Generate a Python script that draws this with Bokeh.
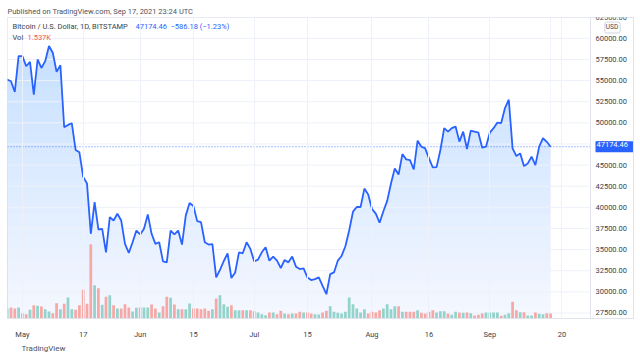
import numpy as np
import pandas as pd
from bokeh.plotting import figure
from bokeh.models import (ColumnDataSource, Range1d, FixedTicker, Label, Span, Title)
from bokeh.core.properties import value
from bokeh.embed import file_html
from bokeh.resources import INLINE

# ---------------- data ----------------
dates = pd.date_range("2021-04-27", "2021-09-17", freq="D")

close = [
    55120, 54920, 53650, 57900,
    # May
    57900, 56700, 57220, 53330, 57500, 56500, 57300, 59090, 58300, 56030,
    56820, 49480, 49760, 49960, 46790, 46510, 43610, 42820, 36870, 40630,
    37380, 37450, 34680, 38850, 38450, 39250, 38450, 35680, 34600, 35870, 37260,
    # Jun
    36790, 37460, 39170, 36870, 35680, 35870, 33610, 33490, 37260, 36790,
    37260, 35600, 39050, 40510, 40160, 38370, 38250, 35870, 35600, 35650,
    31710, 32600, 33650, 34560, 31630, 32300, 34680, 34560, 35870, 35080,
    # Jul
    33610, 33810, 34680, 35280, 33690, 34170, 33690, 32820, 33770, 33490,
    34170, 32980, 32700, 32780, 31710, 31390, 31500, 31710, 30710, 29720,
    32100, 32300, 33690, 34250, 35400, 37260, 39500, 40040, 40040, 42220, 41530,
    # Aug
    39800, 39250, 38180, 39540, 40770, 42820, 44610, 43890, 46310, 45680,
    45600, 44480, 47890, 47180, 46980, 45790, 44720, 44760, 46790, 49370,
    48960, 49370, 49560, 47780, 48960, 46900, 49080, 48960, 48840, 47060, 47180,
    # Sep
    48840, 49370, 50040, 49980, 51750, 52740, 46980, 46070, 46390, 44880,
    45200, 45990, 45000, 47180, 48180, 47760, 47174.46,
]

first_open = 54000.0

volume_k = [
    3.07, 3.38, 3.07, 3.38,
    # May
    1.63, 1.32, 2.67, 4.08, 3.90, 3.68, 2.86, 2.15, 1.63, 4.70,
    2.86, 4.51, 6.45, 2.86, 2.67, 4.08, 8.81, 4.51, 22.81, 10.22,
    9.30, 4.21, 6.66, 7.15, 4.08, 3.07, 3.07, 4.39, 3.38, 2.15, 3.28,
    # Jun
    3.38, 3.38, 3.38, 4.30, 3.07, 1.84, 3.78, 6.66, 6.35, 4.30,
    2.86, 2.86, 2.86, 4.61, 3.07, 3.07, 2.86, 3.07, 2.36, 2.86,
    6.14, 7.15, 4.39, 3.59, 4.08, 2.55, 2.55, 2.55, 2.55, 2.55,
    # Jul
    2.24, 1.84, 1.32, 1.01, 1.84, 1.84, 1.32, 2.36, 1.54, 1.32,
    1.54, 1.54, 2.06, 1.84, 1.84, 1.54, 1.32, 1.23, 1.84, 2.36,
    3.78, 2.06, 1.75, 1.54, 2.06, 6.45, 4.39, 3.07, 1.84, 2.86, 1.54,
    # Aug
    2.06, 1.84, 2.55, 3.07, 4.39, 2.86, 3.78, 3.78, 2.06, 2.06,
    2.06, 2.06, 2.55, 1.75, 1.54, 2.06, 2.55, 1.84, 2.24, 2.24,
    1.54, 1.14, 2.06, 1.84, 1.75, 1.84, 1.63, 0.92, 1.14, 1.54, 1.84,
    # Sep
    1.84, 1.84, 1.84, 0.83, 1.14, 1.63, 5.13, 2.55, 1.93, 1.93,
    0.92, 0.92, 1.84, 1.44, 1.32, 1.63, 1.537,
]

tick_dates = ["2021-05-01", "2021-05-17", "2021-06-01", "2021-06-15", "2021-07-01",
              "2021-07-15", "2021-08-01", "2021-08-16", "2021-09-01", "2021-09-20"]
tick_labels = ["May", "17", "Jun", "15", "Jul", "15", "Aug", "16", "Sep", "20"]
price_ticks = list(range(27500, 62501, 2500))
price_tick_labels = [f"{t:.2f}" for t in price_ticks]
last_price = 47174.46

# ---------------- derived ----------------
DAY = 86400000.0
x_ms = (dates.values.astype("datetime64[ms]").astype(np.int64)).astype(float)
base = x_ms[0]
x_start = base + 0.08 * DAY
x_end = base + 164.82 * DAY
x_sep = base + 153.5 * DAY          # boundary between chart pane and price scale
y_lo, y_hi = 26846.0, 62470.0

prev = np.array([first_open] + close[:-1])
up = np.array(close) >= prev
vol_colors = ["#93d3cc" if u else "#f6a8a6" for u in up]

src = ColumnDataSource(dict(x=x_ms, close=close, vol=volume_k, vcol=vol_colors,
                            top=[y_hi] * len(close)))

FONT = "Roboto"
TXT = "#3b3f4b"
GRID = "#eef1f8"
BORDER = "#e0e3eb"
BLUE = "#2962FF"

p = figure(width=640, height=358, x_axis_type="datetime", y_axis_location=None,
           x_range=Range1d(x_start, x_end), y_range=Range1d(y_lo, y_hi),
           output_backend="svg", toolbar_location=None,
           title="Published on TradingView.com, Sep 17, 2021 23:24 UTC",
           min_border_left=7, min_border_right=7, min_border_top=17, min_border_bottom=40,
           background_fill_color="white", border_fill_color="white")
p.title.text_font = FONT
p.title.text_font_size = "7.5px"
p.title.text_font_style = "normal"
p.title.text_color = "#50535e"
p.title.align = "left"
p.title.standoff = 3
p.title.offset = 0

p.extra_y_ranges = {"vol": Range1d(0, 22.81 * 301 / 74.3)}
p.outline_line_color = BORDER
p.ygrid.visible = False

# gradient fill as nested bands
nb = 25
band_bottoms = [y_lo] + [y_lo + (i / (nb + 1)) * (y_hi - y_lo) for i in range(1, nb + 1)]
band_alpha = [0.05] + [1 - 0.8 ** (1 / nb)] * nb
bsrc = ColumnDataSource(dict(left=[x_ms[0]] * len(band_bottoms), right=[x_ms[-1]] * len(band_bottoms),
                             bottom=band_bottoms, top=[y_hi] * len(band_bottoms), a=band_alpha))
p.quad(left="left", right="right", bottom="bottom", top="top", source=bsrc,
       fill_color=BLUE, fill_alpha="a", line_color=None)
# white mask above the price line
p.varea(x="x", y1="close", y2="top", source=src, fill_color="white")

# grid lines (pane only), drawn above the fill
p.xgrid.grid_line_color = GRID
p.xgrid.level = "guide"
p.segment(x0=[x_start] * len(price_ticks), x1=[x_sep] * len(price_ticks),
          y0=price_ticks, y1=price_ticks, line_color=GRID, line_width=1)

# volume
p.vbar(x="x", top="vol", width=0.72 * DAY, source=src, y_range_name="vol",
       fill_color="vcol", line_color=None)

# last price dotted line
p.segment(x0=[x_start], x1=[x_sep], y0=[last_price], y1=[last_price],
          line_color=BLUE, line_dash="1 2", line_width=1, line_alpha=0.8)

# price line
p.line(x="x", y="close", source=src, line_color=BLUE, line_width=1.8)

# price scale separator and labels
p.add_layout(Span(location=x_sep, dimension="height", line_color=BORDER, line_width=1))
p.text(x=[x_sep] * len(price_ticks), y=price_ticks, text=price_tick_labels,
       x_offset=5, text_baseline="middle", text_align="left",
       text_font=value(FONT), text_font_size="7.5px", text_color=TXT)

# time axis
tick_ms = [int(pd.Timestamp(d).value // 1_000_000) for d in tick_dates]
xax = p.xaxis[0]
xax.ticker = FixedTicker(ticks=tick_ms)
xax.major_label_overrides = {t: l for t, l in zip(tick_ms, tick_labels)}
xax.major_label_text_font = FONT
xax.major_label_text_font_size = "7.5px"
xax.major_label_text_color = TXT
xax.major_tick_line_color = None
xax.minor_tick_line_color = None
xax.axis_line_color = BORDER
xax.major_label_standoff = 5

bottom_title = Title(text="TradingView", align="left", offset=14, text_font=FONT,
                     text_font_size="8px", text_font_style="normal", text_color="#50535e",
                     standoff=0)
p.add_layout(bottom_title, "below")

# labels (screen units relative to frame: x from left, y from bottom)
def lab(x, y, text, color=TXT, size="7.5px", **kw):
    l = Label(x=x, y=y, x_units="screen", y_units="screen", text=text, text_color=color,
              text_font=FONT, text_font_size=size, text_baseline="middle", **kw)
    p.add_layout(l)
    return l

lab(5, 292, "Bitcoin / U.S. Dollar, 1D, BITSTAMP")
lab(128, 292, "47174.46", color=BLUE)
lab(163, 292, "\u2212586.18 (\u22121.23%)", color=BLUE)
lab(5, 281, "Vol")
lab(20, 281, "1.537K", color="#ef5350")
lab(605, 291, "USD", size="6.5px", text_align="center", border_line_color="#d1d4dc",
    background_fill_color="white", padding=(1, 2, 1, 2), border_radius=2)

price_lab = Label(x=x_sep, y=last_price, x_units="data", y_units="data", text="47174.46",
                  x_offset=5, text_color="white", text_font=FONT, text_font_size="7.5px",
                  text_baseline="middle", text_align="left",
                  background_fill_color=BLUE, padding=(1, 5, 1, 5))
p.add_layout(price_lab)

open("out.html", "w").write(file_html(p, INLINE))
